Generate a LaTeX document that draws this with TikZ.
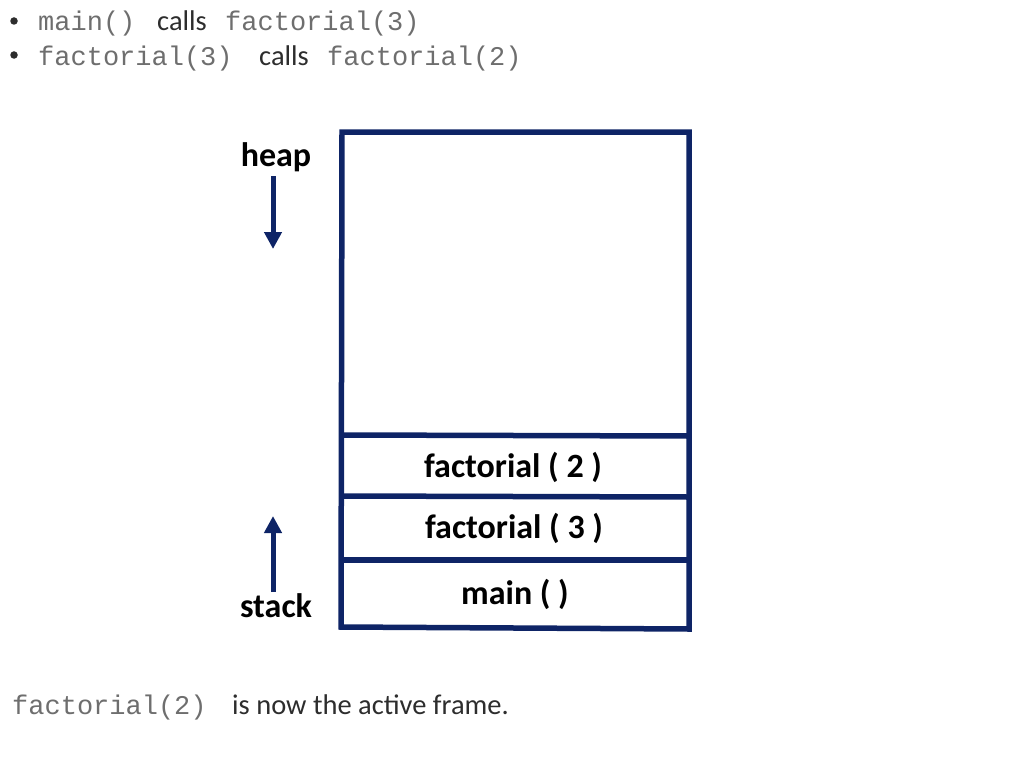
\documentclass[tikz,border=0pt]{standalone}
\usepackage{fontspec}
\setmainfont{Carlito}
\newfontfamily\codefont{Liberation Mono}
\usetikzlibrary{arrows.meta}
\definecolor{navy}{RGB}{14,36,102}
\definecolor{codegray}{RGB}{110,110,110}
\definecolor{txtgray}{RGB}{45,45,45}
\tikzset{
  wall/.style={draw=navy,line width=5.5pt,line cap=rect},
  framelbl/.style={font=\fontsize{34}{36}\selectfont\bfseries,text=black,inner sep=0pt},
  sidelbl/.style={font=\fontsize{34}{36}\selectfont\bfseries,text=black,inner sep=0pt},
  growarrow/.style={draw=navy,line width=5pt,-{Triangle[length=17pt,width=17pt]}},
  bullet/.style={circle,fill=txtgray,inner sep=0pt,minimum size=7.5pt},
  code/.style={font=\codefont\fontsize{27}{30}\selectfont,text=codegray,inner sep=0pt,anchor=base west},
  prose/.style={font=\fontsize{28.5}{30}\selectfont,text=txtgray,inner sep=0pt,anchor=base west}
}
\begin{document}
\begin{tikzpicture}[x=1pt,y=-1pt]
\useasboundingbox (0,0) rectangle (1024,768);
% bullets
\node[bullet] (b1) at (14,21) {};
\node[code] (l1a) at (38,31) {main()};
\node[prose] (l1b) at (157,31) {calls};
\node[code] (l1c) at (225,31) {factorial(3)};
\node[bullet] (b2) at (14,55) {};
\node[code] (l2a) at (38,65) {factorial(3)};
\node[prose] (l2b) at (259,65) {calls};
\node[code] (l2c) at (327,65) {factorial(2)};
% memory box
\coordinate (tl) at (342,132);
\coordinate (tr) at (689,132);
\coordinate (bl) at (341,627);
\coordinate (br) at (689,629);
\draw[wall] (tl) -- (tr) -- (br) -- (bl) -- cycle;
\coordinate (d1l) at (342,435); \coordinate (d1r) at (689,436);
\coordinate (d2l) at (342,496); \coordinate (d2r) at (689,497);
\coordinate (d3l) at (342,560); \coordinate (d3r) at (689,560);
\draw[wall] (d1l) -- (d1r);
\draw[wall] (d2l) -- (d2r);
\draw[wall] (d3l) -- (d3r);
\node[framelbl] (f2) at (513,467) {factorial ( 2 )};
\node[framelbl] (f3) at (514,528) {factorial ( 3 )};
\node[framelbl] (fm) at (515,594) {main ( )};
% heap / stack
\node[sidelbl] (heap) at (276,157) {heap};
\node[sidelbl] (stack) at (276,606) {stack};
\coordinate (hs) at (273,176);
\coordinate (ha) at (273,249);
\coordinate (ss) at (273,592);
\coordinate (sa) at (273,516);
\draw[growarrow] (hs) -- (ha);
\draw[growarrow] (ss) -- (sa);
% footer
\node[code] (fc) at (12,714) {factorial(2)};
\node[prose] (ft) at (232,714) {is now the active frame.};
\end{tikzpicture}
\end{document}
